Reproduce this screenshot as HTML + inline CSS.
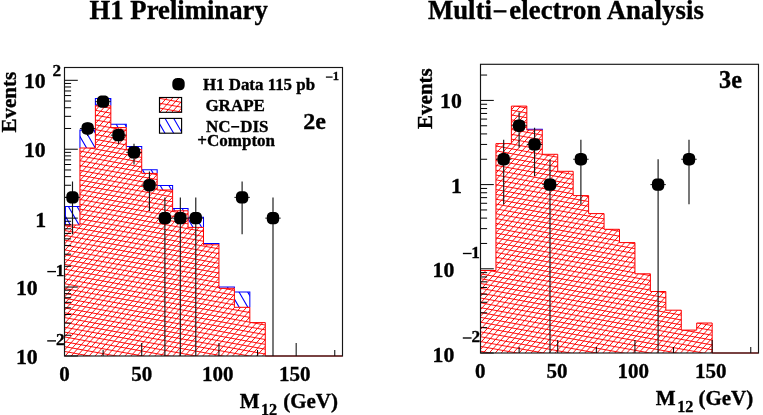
<!DOCTYPE html>
<html><head><meta charset="utf-8"><title>H1 Preliminary Multi-electron Analysis</title>
<style>html,body{margin:0;padding:0;background:#fff;}svg{display:block;will-change:transform;}text{fill:#000;stroke:#000;stroke-width:0.35px;}</style></head>
<body>
<svg width="763" height="415" viewBox="0 0 763 415">
<rect width="763" height="415" fill="#fff"/>
<clipPath id="clipR0"><path d="M64.50 356.00L64.50 225.00L79.94 225.00L79.94 148.00L95.39 148.00L95.39 105.80L110.83 105.80L110.83 127.60L126.28 127.60L126.28 149.60L141.72 149.60L141.72 173.40L157.17 173.40L157.17 190.00L172.61 190.00L172.61 210.80L188.06 210.80L188.06 227.40L203.50 227.40L203.50 244.80L218.94 244.80L218.94 288.30L234.39 288.30L234.39 307.30L249.83 307.30L249.83 322.60L265.28 322.60L265.28 356.00Z"/></clipPath>
<clipPath id="clipB0"><path d="M64.50 206.50H79.94V225.00H64.50ZM79.94 130.10H95.39V148.00H79.94ZM95.39 98.50H110.83V105.80H95.39ZM110.83 124.30H126.28V127.60H110.83ZM126.28 146.40H141.72V149.60H126.28ZM141.72 169.70H157.17V173.40H141.72ZM157.17 185.40H172.61V190.00H157.17ZM172.61 208.40H188.06V210.80H172.61ZM188.06 217.30H203.50V227.40H188.06ZM203.50 243.50H218.94V244.80H203.50ZM218.94 286.90H234.39V288.30H218.94ZM234.39 292.00H249.83V307.30H234.39Z"/></clipPath>
<clipPath id="clipB0t"><path d="M64.50 356.00L64.50 206.50L79.94 206.50L79.94 130.10L95.39 130.10L95.39 98.50L110.83 98.50L110.83 124.30L126.28 124.30L126.28 146.40L141.72 146.40L141.72 169.70L157.17 169.70L157.17 185.40L172.61 185.40L172.61 208.40L188.06 208.40L188.06 217.30L203.50 217.30L203.50 243.50L218.94 243.50L218.94 286.90L234.39 286.90L234.39 292.00L249.83 292.00L249.83 322.60L265.28 322.60L265.28 356.00Z"/></clipPath>
<g clip-path="url(#clipB0t)"><path d="M233.33 657.15L-167.31 -36.79M239.83 653.40L-160.82 -40.54M246.32 649.65L-154.32 -44.29M252.82 645.90L-147.83 -48.04M259.31 642.15L-141.33 -51.79M265.81 638.40L-134.84 -55.54M272.30 634.65L-128.34 -59.29M278.80 630.90L-121.84 -63.04M285.30 627.15L-115.35 -66.79M291.79 623.40L-108.85 -70.54M298.29 619.65L-102.36 -74.29M304.78 615.90L-95.86 -78.04M311.28 612.15L-89.37 -81.79M317.77 608.40L-82.87 -85.54M324.27 604.65L-76.38 -89.29M330.76 600.90L-69.88 -93.04M337.26 597.15L-63.39 -96.79M343.75 593.40L-56.89 -100.54M350.25 589.65L-50.40 -104.29M356.74 585.90L-43.90 -108.04M363.24 582.15L-37.41 -111.79M369.73 578.40L-30.91 -115.54M376.23 574.65L-24.42 -119.29M382.72 570.90L-17.92 -123.04M389.22 567.15L-11.43 -126.79M395.71 563.40L-4.93 -130.54M402.21 559.65L1.56 -134.29M408.70 555.90L8.06 -138.04M415.20 552.15L14.55 -141.79M421.69 548.40L21.05 -145.54M428.19 544.65L27.54 -149.29M434.68 540.90L34.04 -153.04M441.18 537.15L40.54 -156.79M447.68 533.40L47.03 -160.54M454.17 529.65L53.53 -164.29M460.67 525.90L60.02 -168.04M467.16 522.15L66.52 -171.79M473.66 518.40L73.01 -175.54M480.15 514.65L79.51 -179.29M486.65 510.90L86.00 -183.04M493.14 507.15L92.50 -186.79M499.64 503.40L98.99 -190.54M506.13 499.65L105.49 -194.29M512.63 495.90L111.98 -198.04M519.12 492.15L118.48 -201.79M525.62 488.40L124.97 -205.54M532.11 484.65L131.47 -209.29M538.61 480.90L137.96 -213.04M545.10 477.15L144.46 -216.79M551.60 473.40L150.95 -220.54M558.09 469.65L157.45 -224.29M564.59 465.90L163.94 -228.04M571.08 462.15L170.44 -231.79" stroke="#0000ff" stroke-width="1.1" fill="none"/></g>
<path d="M64.50 206.50H79.94M79.94 130.10H95.39M95.39 98.50H110.83M110.83 124.30H126.28M126.28 146.40H141.72M141.72 169.70H157.17M157.17 185.40H172.61M172.61 208.40H188.06M188.06 217.30H203.50M203.50 243.50H218.94M218.94 286.90H234.39M234.39 292.00H249.83M79.94 129.60V148.00M95.39 98.00V105.80M110.83 98.00V105.80M126.28 123.80V127.60M141.72 145.90V149.60M157.17 169.20V173.40M172.61 184.90V190.00M188.06 207.90V210.80M203.50 216.80V227.40M218.94 243.00V244.80M234.39 286.40V288.30M249.83 291.50V307.30M65.40 206.50V225.00" stroke="#0000ff" stroke-width="1.05" fill="none"/>
<path d="M64.50 356.00L64.50 225.00L79.94 225.00L79.94 148.00L95.39 148.00L95.39 105.80L110.83 105.80L110.83 127.60L126.28 127.60L126.28 149.60L141.72 149.60L141.72 173.40L157.17 173.40L157.17 190.00L172.61 190.00L172.61 210.80L188.06 210.80L188.06 227.40L203.50 227.40L203.50 244.80L218.94 244.80L218.94 288.30L234.39 288.30L234.39 307.30L249.83 307.30L249.83 322.60L265.28 322.60L265.28 356.00Z" fill="#fff"/>
<g clip-path="url(#clipR0)"><path d="M-214.48 374.19L322.41 -220.63M-211.19 377.16L325.71 -217.66M-207.89 380.14L329.00 -214.68M-204.60 383.11L332.30 -211.71M-201.30 386.09L335.60 -208.73M-198.00 389.06L338.89 -205.76M-194.71 392.04L342.19 -202.78M-191.41 395.01L345.48 -199.81M-188.12 397.99L348.78 -196.83M-184.82 400.96L352.07 -193.86M-181.52 403.94L355.37 -190.88M-178.23 406.91L358.67 -187.91M-174.93 409.89L361.96 -184.93M-171.64 412.86L365.26 -181.96M-168.34 415.84L368.55 -178.98M-165.04 418.81L371.85 -176.01M-161.75 421.79L375.15 -173.03M-158.45 424.76L378.44 -170.06M-155.16 427.74L381.74 -167.08M-151.86 430.71L385.03 -164.11M-148.56 433.69L388.33 -161.13M-145.27 436.66L391.63 -158.16M-141.97 439.63L394.92 -155.18M-138.68 442.61L398.22 -152.21M-135.38 445.58L401.51 -149.23M-132.08 448.56L404.81 -146.26M-128.79 451.53L408.11 -143.28M-125.49 454.51L411.40 -140.31M-122.20 457.48L414.70 -137.33M-118.90 460.46L417.99 -134.36M-115.60 463.43L421.29 -131.38M-112.31 466.41L424.59 -128.41M-109.01 469.38L427.88 -125.43M-105.72 472.36L431.18 -122.46M-102.42 475.33L434.47 -119.48M-99.13 478.31L437.77 -116.51M-95.83 481.28L441.07 -113.53M-92.53 484.26L444.36 -110.56M-89.24 487.23L447.66 -107.58M-85.94 490.21L450.95 -104.61M-82.65 493.18L454.25 -101.63M-79.35 496.16L457.54 -98.66M-76.05 499.13L460.84 -95.68M-72.76 502.11L464.14 -92.71M-69.46 505.08L467.43 -89.73M-66.17 508.06L470.73 -86.76M-62.87 511.03L474.02 -83.78M-59.57 514.01L477.32 -80.81M-56.28 516.98L480.62 -77.83M-52.98 519.96L483.91 -74.86M-49.69 522.93L487.21 -71.88M-46.39 525.91L490.50 -68.91M-43.09 528.88L493.80 -65.93M-39.80 531.86L497.10 -62.96M-36.50 534.83L500.39 -59.98M-33.21 537.81L503.69 -57.01M-29.91 540.78L506.98 -54.03M-26.61 543.76L510.28 -51.06M-23.32 546.73L513.58 -48.08M-20.02 549.71L516.87 -45.11M-16.73 552.68L520.17 -42.13M-13.43 555.66L523.46 -39.16M-10.14 558.63L526.76 -36.18M-6.84 561.61L530.06 -33.21M-3.54 564.58L533.35 -30.24M-0.25 567.56L536.65 -27.26M3.05 570.53L539.94 -24.29M6.34 573.51L543.24 -21.31M9.64 576.48L546.53 -18.34M12.94 579.46L549.83 -15.36M16.23 582.43L553.13 -12.39M19.53 585.41L556.42 -9.41M22.82 588.38L559.72 -6.44M26.12 591.36L563.01 -3.46M29.42 594.33L566.31 -0.49M32.71 597.31L569.61 2.49M36.01 600.28L572.90 5.46M39.30 603.26L576.20 8.44M42.60 606.23L579.49 11.41M45.90 609.21L582.79 14.39M49.19 612.18L586.09 17.36M52.49 615.16L589.38 20.34M55.78 618.13L592.68 23.31M59.08 621.11L595.97 26.29M62.38 624.08L599.27 29.26M65.67 627.06L602.57 32.24M68.97 630.03L605.86 35.21M72.26 633.01L609.16 38.19M75.56 635.98L612.45 41.16M78.85 638.96L615.75 44.14M82.15 641.93L619.05 47.11M85.45 644.91L622.34 50.09" stroke="#ff0000" stroke-width="0.95" fill="none"/><path d="M567.82 447.74L-220.56 304.47M568.67 443.06L-219.71 299.79M569.52 438.38L-218.86 295.11M570.37 433.69L-218.00 290.42M571.22 429.01L-217.15 285.74M572.07 424.33L-216.30 281.06M572.93 419.64L-215.45 276.37M573.78 414.96L-214.60 271.69M574.63 410.28L-213.75 267.01M575.48 405.59L-212.90 262.32M576.33 400.91L-212.05 257.64M577.18 396.23L-211.20 252.96M578.03 391.55L-210.34 248.27M578.88 386.86L-209.49 243.59M579.73 382.18L-208.64 238.91M580.59 377.50L-207.79 234.22M581.44 372.81L-206.94 229.54M582.29 368.13L-206.09 224.86M583.14 363.45L-205.24 220.17M583.99 358.76L-204.39 215.49M584.84 354.08L-203.54 210.81M585.69 349.40L-202.68 206.12M586.54 344.71L-201.83 201.44M587.39 340.03L-200.98 196.76M588.25 335.35L-200.13 192.07M589.10 330.66L-199.28 187.39M589.95 325.98L-198.43 182.71M590.80 321.30L-197.58 178.02M591.65 316.61L-196.73 173.34M592.50 311.93L-195.88 168.66M593.35 307.25L-195.02 163.97M594.20 302.56L-194.17 159.29M595.05 297.88L-193.32 154.61M595.91 293.20L-192.47 149.92M596.76 288.51L-191.62 145.24M597.61 283.83L-190.77 140.56M598.46 279.15L-189.92 135.87M599.31 274.46L-189.07 131.19M600.16 269.78L-188.22 126.51M601.01 265.10L-187.36 121.82M601.86 260.41L-186.51 117.14M602.71 255.73L-185.66 112.46M603.57 251.05L-184.81 107.77M604.42 246.36L-183.96 103.09M605.27 241.68L-183.11 98.41M606.12 237.00L-182.26 93.72M606.97 232.31L-181.41 89.04M607.82 227.63L-180.56 84.36M608.67 222.95L-179.70 79.67M609.52 218.26L-178.85 74.99M610.37 213.58L-178.00 70.31M611.23 208.90L-177.15 65.62M612.08 204.21L-176.30 60.94M612.93 199.53L-175.45 56.26M613.78 194.85L-174.60 51.57M614.63 190.16L-173.75 46.89M615.48 185.48L-172.90 42.21M616.33 180.80L-172.04 37.52M617.18 176.11L-171.19 32.84M618.03 171.43L-170.34 28.16M618.89 166.75L-169.49 23.47M619.74 162.06L-168.64 18.79M620.59 157.38L-167.79 14.11M621.44 152.70L-166.94 9.42M622.29 148.01L-166.09 4.74M623.14 143.33L-165.24 0.06M623.99 138.65L-164.38 -4.63M624.84 133.96L-163.53 -9.31M625.69 129.28L-162.68 -13.99M626.55 124.60L-161.83 -18.67M627.40 119.91L-160.98 -23.36M628.25 115.23L-160.13 -28.04" stroke="#ff0000" stroke-width="0.95" fill="none"/></g>
<path d="M64.50 225.00L64.50 225.00L79.94 225.00L79.94 148.00L95.39 148.00L95.39 105.80L110.83 105.80L110.83 127.60L126.28 127.60L126.28 149.60L141.72 149.60L141.72 173.40L157.17 173.40L157.17 190.00L172.61 190.00L172.61 210.80L188.06 210.80L188.06 227.40L203.50 227.40L203.50 244.80L218.94 244.80L218.94 288.30L234.39 288.30L234.39 307.30L249.83 307.30L249.83 322.60L265.28 322.60L265.28 356.00L342.50 356.00" stroke="#ff0000" stroke-width="1.0" fill="none"/>
<path d="M64.50 356.00v-13M103.11 356.00v-6M141.72 356.00v-13M180.33 356.00v-6M218.94 356.00v-13M257.56 356.00v-6M296.17 356.00v-13M334.78 356.00v-6M64.50 355.98h13.3M64.50 335.23h6.6M64.50 323.10h6.6M64.50 314.49h6.6M64.50 307.81h6.6M64.50 302.35h6.6M64.50 297.74h6.6M64.50 293.74h6.6M64.50 290.21h6.6M64.50 287.06h13.3M64.50 266.31h6.6M64.50 254.18h6.6M64.50 245.57h6.6M64.50 238.89h6.6M64.50 233.43h6.6M64.50 228.82h6.6M64.50 224.82h6.6M64.50 221.29h6.6M64.50 218.14h13.3M64.50 197.39h6.6M64.50 185.26h6.6M64.50 176.65h6.6M64.50 169.97h6.6M64.50 164.51h6.6M64.50 159.90h6.6M64.50 155.90h6.6M64.50 152.37h6.6M64.50 149.22h13.3M64.50 128.47h6.6M64.50 116.34h6.6M64.50 107.73h6.6M64.50 101.05h6.6M64.50 95.59h6.6M64.50 90.98h6.6M64.50 86.98h6.6M64.50 83.45h6.6M64.50 80.30h13.3" stroke="#000" stroke-width="1" fill="none"/>
<path d="M72.50 181.39V234.15M87.67 122.43V136.05M103.11 97.65V106.27M118.56 128.47V143.76M134.00 143.76V164.51M149.44 171.62V211.03M164.89 197.39V356.00M180.33 197.39V356.00M195.78 197.39V356.00M242.11 181.39V234.15M273.00 197.39V356.00" stroke="#181818" stroke-width="1.15" fill="none"/>
<path d="M64.50 197.39H79.94M79.94 128.47H95.39M95.39 101.65H110.83M110.83 135.15H126.28M126.28 152.37H141.72M141.72 185.26H157.17M157.17 218.14H172.61M172.61 218.14H188.06M188.06 218.14H203.50M234.39 197.39H249.83M265.28 218.14H280.72" stroke="#000" stroke-width="0.9" fill="none"/>
<polygon points="78.70,197.39 78.66,198.77 78.54,199.67 78.35,200.44 78.07,201.10 77.72,201.69 77.30,202.19 76.79,202.62 76.21,202.97 75.54,203.24 74.78,203.44 73.87,203.55 72.50,203.59 71.13,203.55 70.22,203.44 69.46,203.24 68.79,202.97 68.21,202.62 67.70,202.19 67.28,201.69 66.93,201.10 66.65,200.44 66.46,199.67 66.34,198.77 66.30,197.39 66.34,196.02 66.46,195.11 66.65,194.35 66.93,193.68 67.28,193.10 67.70,192.60 68.21,192.17 68.79,191.82 69.46,191.55 70.22,191.35 71.13,191.23 72.50,191.19 73.87,191.23 74.78,191.35 75.54,191.55 76.21,191.82 76.79,192.17 77.30,192.60 77.72,193.10 78.07,193.68 78.35,194.35 78.54,195.11 78.66,196.02" fill="#000"/><polygon points="93.87,128.47 93.83,129.85 93.71,130.75 93.51,131.52 93.24,132.18 92.89,132.77 92.46,133.27 91.96,133.70 91.38,134.05 90.71,134.32 89.94,134.52 89.04,134.63 87.67,134.67 86.29,134.63 85.39,134.52 84.62,134.32 83.96,134.05 83.37,133.70 82.87,133.27 82.44,132.77 82.09,132.18 81.82,131.52 81.62,130.75 81.51,129.85 81.47,128.47 81.51,127.10 81.62,126.19 81.82,125.43 82.09,124.76 82.44,124.18 82.87,123.68 83.37,123.25 83.96,122.90 84.62,122.63 85.39,122.43 86.29,122.31 87.67,122.27 89.04,122.31 89.94,122.43 90.71,122.63 91.38,122.90 91.96,123.25 92.46,123.68 92.89,124.18 93.24,124.76 93.51,125.43 93.71,126.19 93.83,127.10" fill="#000"/><polygon points="109.31,101.65 109.27,103.02 109.15,103.93 108.96,104.70 108.68,105.36 108.33,105.94 107.91,106.45 107.40,106.87 106.82,107.23 106.15,107.50 105.39,107.69 104.48,107.81 103.11,107.85 101.74,107.81 100.83,107.69 100.07,107.50 99.40,107.23 98.82,106.87 98.31,106.45 97.89,105.94 97.54,105.36 97.26,104.70 97.07,103.93 96.95,103.02 96.91,101.65 96.95,100.28 97.07,99.37 97.26,98.61 97.54,97.94 97.89,97.36 98.31,96.86 98.82,96.43 99.40,96.08 100.07,95.80 100.83,95.61 101.74,95.49 103.11,95.45 104.48,95.49 105.39,95.61 106.15,95.80 106.82,96.08 107.40,96.43 107.91,96.86 108.33,97.36 108.68,97.94 108.96,98.61 109.15,99.37 109.27,100.28" fill="#000"/><polygon points="124.76,135.15 124.72,136.52 124.60,137.43 124.40,138.20 124.13,138.86 123.78,139.44 123.35,139.95 122.85,140.38 122.27,140.73 121.60,141.00 120.83,141.19 119.93,141.31 118.56,141.35 117.18,141.31 116.28,141.19 115.51,141.00 114.85,140.73 114.26,140.38 113.76,139.95 113.33,139.44 112.98,138.86 112.71,138.20 112.51,137.43 112.39,136.52 112.36,135.15 112.39,133.78 112.51,132.87 112.71,132.11 112.98,131.44 113.33,130.86 113.76,130.36 114.26,129.93 114.85,129.58 115.51,129.31 116.28,129.11 117.18,128.99 118.56,128.95 119.93,128.99 120.83,129.11 121.60,129.31 122.27,129.58 122.85,129.93 123.35,130.36 123.78,130.86 124.13,131.44 124.40,132.11 124.60,132.87 124.72,133.78" fill="#000"/><polygon points="140.20,152.37 140.16,153.75 140.04,154.65 139.85,155.42 139.57,156.08 139.22,156.67 138.80,157.17 138.29,157.60 137.71,157.95 137.04,158.22 136.28,158.42 135.37,158.53 134.00,158.57 132.63,158.53 131.72,158.42 130.96,158.22 130.29,157.95 129.71,157.60 129.20,157.17 128.78,156.67 128.43,156.08 128.15,155.42 127.96,154.65 127.84,153.75 127.80,152.37 127.84,151.00 127.96,150.10 128.15,149.33 128.43,148.66 128.78,148.08 129.20,147.58 129.71,147.15 130.29,146.80 130.96,146.53 131.72,146.33 132.63,146.21 134.00,146.17 135.37,146.21 136.28,146.33 137.04,146.53 137.71,146.80 138.29,147.15 138.80,147.58 139.22,148.08 139.57,148.66 139.85,149.33 140.04,150.10 140.16,151.00" fill="#000"/><polygon points="155.64,185.26 155.61,186.63 155.49,187.53 155.29,188.30 155.02,188.97 154.67,189.55 154.24,190.05 153.74,190.48 153.15,190.83 152.49,191.10 151.72,191.30 150.82,191.42 149.44,191.46 148.07,191.42 147.17,191.30 146.40,191.10 145.73,190.83 145.15,190.48 144.65,190.05 144.22,189.55 143.87,188.97 143.60,188.30 143.40,187.53 143.28,186.63 143.24,185.26 143.28,183.88 143.40,182.98 143.60,182.21 143.87,181.55 144.22,180.96 144.65,180.46 145.15,180.03 145.73,179.68 146.40,179.41 147.17,179.21 148.07,179.10 149.44,179.06 150.82,179.10 151.72,179.21 152.49,179.41 153.15,179.68 153.74,180.03 154.24,180.46 154.67,180.96 155.02,181.55 155.29,182.21 155.49,182.98 155.61,183.88" fill="#000"/><polygon points="171.09,218.14 171.05,219.51 170.93,220.42 170.74,221.18 170.46,221.85 170.11,222.43 169.69,222.94 169.18,223.36 168.60,223.71 167.93,223.99 167.17,224.18 166.26,224.30 164.89,224.34 163.52,224.30 162.61,224.18 161.85,223.99 161.18,223.71 160.60,223.36 160.09,222.94 159.67,222.43 159.32,221.85 159.04,221.18 158.85,220.42 158.73,219.51 158.69,218.14 158.73,216.77 158.85,215.86 159.04,215.10 159.32,214.43 159.67,213.85 160.09,213.34 160.60,212.92 161.18,212.57 161.85,212.29 162.61,212.10 163.52,211.98 164.89,211.94 166.26,211.98 167.17,212.10 167.93,212.29 168.60,212.57 169.18,212.92 169.69,213.34 170.11,213.85 170.46,214.43 170.74,215.10 170.93,215.86 171.05,216.77" fill="#000"/><polygon points="186.53,218.14 186.49,219.51 186.38,220.42 186.18,221.18 185.91,221.85 185.56,222.43 185.13,222.94 184.63,223.36 184.04,223.71 183.38,223.99 182.61,224.18 181.71,224.30 180.33,224.34 178.96,224.30 178.06,224.18 177.29,223.99 176.62,223.71 176.04,223.36 175.54,222.94 175.11,222.43 174.76,221.85 174.49,221.18 174.29,220.42 174.17,219.51 174.13,218.14 174.17,216.77 174.29,215.86 174.49,215.10 174.76,214.43 175.11,213.85 175.54,213.34 176.04,212.92 176.62,212.57 177.29,212.29 178.06,212.10 178.96,211.98 180.33,211.94 181.71,211.98 182.61,212.10 183.38,212.29 184.04,212.57 184.63,212.92 185.13,213.34 185.56,213.85 185.91,214.43 186.18,215.10 186.38,215.86 186.49,216.77" fill="#000"/><polygon points="201.98,218.14 201.94,219.51 201.82,220.42 201.62,221.18 201.35,221.85 201.00,222.43 200.57,222.94 200.07,223.36 199.49,223.71 198.82,223.99 198.06,224.18 197.15,224.30 195.78,224.34 194.41,224.30 193.50,224.18 192.73,223.99 192.07,223.71 191.49,223.36 190.98,222.94 190.55,222.43 190.20,221.85 189.93,221.18 189.73,220.42 189.62,219.51 189.58,218.14 189.62,216.77 189.73,215.86 189.93,215.10 190.20,214.43 190.55,213.85 190.98,213.34 191.49,212.92 192.07,212.57 192.73,212.29 193.50,212.10 194.41,211.98 195.78,211.94 197.15,211.98 198.06,212.10 198.82,212.29 199.49,212.57 200.07,212.92 200.57,213.34 201.00,213.85 201.35,214.43 201.62,215.10 201.82,215.86 201.94,216.77" fill="#000"/><polygon points="248.31,197.39 248.27,198.77 248.15,199.67 247.96,200.44 247.68,201.10 247.33,201.69 246.91,202.19 246.40,202.62 245.82,202.97 245.15,203.24 244.39,203.44 243.48,203.55 242.11,203.59 240.74,203.55 239.83,203.44 239.07,203.24 238.40,202.97 237.82,202.62 237.31,202.19 236.89,201.69 236.54,201.10 236.26,200.44 236.07,199.67 235.95,198.77 235.91,197.39 235.95,196.02 236.07,195.11 236.26,194.35 236.54,193.68 236.89,193.10 237.31,192.60 237.82,192.17 238.40,191.82 239.07,191.55 239.83,191.35 240.74,191.23 242.11,191.19 243.48,191.23 244.39,191.35 245.15,191.55 245.82,191.82 246.40,192.17 246.91,192.60 247.33,193.10 247.68,193.68 247.96,194.35 248.15,195.11 248.27,196.02" fill="#000"/><polygon points="279.20,218.14 279.16,219.51 279.04,220.42 278.85,221.18 278.57,221.85 278.22,222.43 277.80,222.94 277.29,223.36 276.71,223.71 276.04,223.99 275.28,224.18 274.37,224.30 273.00,224.34 271.63,224.30 270.72,224.18 269.96,223.99 269.29,223.71 268.71,223.36 268.20,222.94 267.78,222.43 267.43,221.85 267.15,221.18 266.96,220.42 266.84,219.51 266.80,218.14 266.84,216.77 266.96,215.86 267.15,215.10 267.43,214.43 267.78,213.85 268.20,213.34 268.71,212.92 269.29,212.57 269.96,212.29 270.72,212.10 271.63,211.98 273.00,211.94 274.37,211.98 275.28,212.10 276.04,212.29 276.71,212.57 277.29,212.92 277.80,213.34 278.22,213.85 278.57,214.43 278.85,215.10 279.04,215.86 279.16,216.77" fill="#000"/>
<rect x="64.50" y="67.50" width="278.00" height="288.50" fill="none" stroke="#161616" stroke-width="1.15"/>
<clipPath id="clipR1"><path d="M480.50 353.00L480.50 270.50L495.94 270.50L495.94 143.60L511.39 143.60L511.39 106.10L526.83 106.10L526.83 130.10L542.28 130.10L542.28 154.30L557.72 154.30L557.72 171.30L573.17 171.30L573.17 195.60L588.61 195.60L588.61 213.60L604.06 213.60L604.06 229.30L619.50 229.30L619.50 242.60L634.94 242.60L634.94 273.80L650.39 273.80L650.39 291.50L665.83 291.50L665.83 310.20L681.28 310.20L681.28 330.10L696.72 330.10L696.72 323.00L712.17 323.00L712.17 353.00Z"/></clipPath>
<clipPath id="clipB1"><path d="M526.83 129.20H542.28V130.10H526.83Z"/></clipPath>
<clipPath id="clipB1t"><path d="M480.50 353.00L480.50 270.50L495.94 270.50L495.94 143.60L511.39 143.60L511.39 106.10L526.83 106.10L526.83 129.20L542.28 129.20L542.28 154.30L557.72 154.30L557.72 171.30L573.17 171.30L573.17 195.60L588.61 195.60L588.61 213.60L604.06 213.60L604.06 229.30L619.50 229.30L619.50 242.60L634.94 242.60L634.94 273.80L650.39 273.80L650.39 291.50L665.83 291.50L665.83 310.20L681.28 310.20L681.28 330.10L696.72 330.10L696.72 323.00L712.17 323.00L712.17 353.00Z"/></clipPath>
<g clip-path="url(#clipB1t)"><path d="M647.83 655.08L247.04 -39.10M654.33 651.33L253.54 -42.85M660.82 647.58L260.03 -46.60M667.32 643.83L266.53 -50.35M673.81 640.08L273.02 -54.10M680.31 636.33L279.52 -57.85M686.80 632.58L286.01 -61.60M693.30 628.83L292.51 -65.35M699.79 625.08L299.01 -69.10M706.29 621.33L305.50 -72.85M712.78 617.58L312.00 -76.60M719.28 613.83L318.49 -80.35M725.77 610.08L324.99 -84.10M732.27 606.33L331.48 -87.85M738.77 602.58L337.98 -91.60M745.26 598.83L344.47 -95.35M751.76 595.08L350.97 -99.10M758.25 591.33L357.46 -102.85M764.75 587.58L363.96 -106.60M771.24 583.83L370.45 -110.35M777.74 580.08L376.95 -114.10M784.23 576.33L383.44 -117.85M790.73 572.58L389.94 -121.60M797.22 568.83L396.43 -125.35M803.72 565.08L402.93 -129.10M810.21 561.33L409.42 -132.85M816.71 557.58L415.92 -136.60M823.20 553.83L422.41 -140.35M829.70 550.08L428.91 -144.10M836.19 546.33L435.40 -147.85M842.69 542.58L441.90 -151.60M849.18 538.83L448.39 -155.35M855.68 535.08L454.89 -159.10M862.17 531.33L461.38 -162.85M868.67 527.58L467.88 -166.60M875.16 523.83L474.38 -170.35M881.66 520.08L480.87 -174.10M888.15 516.33L487.37 -177.85M894.65 512.58L493.86 -181.60M901.14 508.83L500.36 -185.35M907.64 505.08L506.85 -189.10M914.14 501.33L513.35 -192.85M920.63 497.58L519.84 -196.60M927.13 493.83L526.34 -200.35M933.62 490.08L532.83 -204.10M940.12 486.33L539.33 -207.85M946.61 482.58L545.82 -211.60M953.11 478.83L552.32 -215.35M959.60 475.08L558.81 -219.10M966.10 471.33L565.31 -222.85M972.59 467.58L571.80 -226.60M979.09 463.83L578.30 -230.35M985.58 460.08L584.79 -234.10M992.08 456.33L591.29 -237.85" stroke="#0000ff" stroke-width="1.1" fill="none"/></g>
<path d="M526.83 129.20H542.28M542.28 128.70V130.10" stroke="#0000ff" stroke-width="1.05" fill="none"/>
<path d="M480.50 353.00L480.50 270.50L495.94 270.50L495.94 143.60L511.39 143.60L511.39 106.10L526.83 106.10L526.83 130.10L542.28 130.10L542.28 154.30L557.72 154.30L557.72 171.30L573.17 171.30L573.17 195.60L588.61 195.60L588.61 213.60L604.06 213.60L604.06 229.30L619.50 229.30L619.50 242.60L634.94 242.60L634.94 273.80L650.39 273.80L650.39 291.50L665.83 291.50L665.83 310.20L681.28 310.20L681.28 330.10L696.72 330.10L696.72 323.00L712.17 323.00L712.17 353.00Z" fill="#fff"/>
<g clip-path="url(#clipR1)"><path d="M199.34 369.31L736.43 -225.72M202.64 372.29L739.72 -222.74M205.93 375.26L743.02 -219.77M209.23 378.24L746.32 -216.79M212.52 381.21L749.61 -213.82M215.82 384.19L752.91 -210.84M219.12 387.16L756.20 -207.87M222.41 390.14L759.50 -204.89M225.71 393.11L762.79 -201.92M229.00 396.09L766.09 -198.94M232.30 399.06L769.39 -195.97M235.60 402.04L772.68 -192.99M238.89 405.01L775.98 -190.02M242.19 407.99L779.27 -187.04M245.48 410.96L782.57 -184.07M248.78 413.94L785.87 -181.09M252.07 416.91L789.16 -178.12M255.37 419.89L792.46 -175.14M258.67 422.86L795.75 -172.17M261.96 425.84L799.05 -169.19M265.26 428.81L802.35 -166.22M268.55 431.79L805.64 -163.24M271.85 434.76L808.94 -160.27M275.15 437.74L812.23 -157.29M278.44 440.71L815.53 -154.32M281.74 443.69L818.83 -151.34M285.03 446.66L822.12 -148.37M288.33 449.64L825.42 -145.39M291.63 452.61L828.71 -142.42M294.92 455.59L832.01 -139.44M298.22 458.56L835.31 -136.47M301.51 461.54L838.60 -133.49M304.81 464.51L841.90 -130.52M308.11 467.49L845.19 -127.54M311.40 470.46L848.49 -124.57M314.70 473.44L851.79 -121.59M317.99 476.41L855.08 -118.62M321.29 479.39L858.38 -115.64M324.59 482.36L861.67 -112.67M327.88 485.34L864.97 -109.69M331.18 488.31L868.26 -106.72M334.47 491.29L871.56 -103.74M337.77 494.26L874.86 -100.77M341.06 497.24L878.15 -97.79M344.36 500.21L881.45 -94.82M347.66 503.19L884.74 -91.84M350.95 506.16L888.04 -88.87M354.25 509.14L891.34 -85.89M357.54 512.11L894.63 -82.92M360.84 515.09L897.93 -79.94M364.14 518.06L901.22 -76.97M367.43 521.04L904.52 -73.99M370.73 524.01L907.82 -71.02M374.02 526.99L911.11 -68.04M377.32 529.96L914.41 -65.07M380.62 532.94L917.70 -62.09M383.91 535.91L921.00 -59.12M387.21 538.89L924.30 -56.14M390.50 541.86L927.59 -53.17M393.80 544.84L930.89 -50.19M397.10 547.81L934.18 -47.22M400.39 550.79L937.48 -44.24M403.69 553.76L940.78 -41.27M406.98 556.74L944.07 -38.29M410.28 559.71L947.37 -35.32M413.58 562.69L950.66 -32.35M416.87 565.66L953.96 -29.37M420.17 568.64L957.25 -26.40M423.46 571.61L960.55 -23.42M426.76 574.59L963.85 -20.45M430.06 577.56L967.14 -17.47M433.35 580.54L970.44 -14.50M436.65 583.51L973.73 -11.52M439.94 586.49L977.03 -8.55M443.24 589.46L980.33 -5.57M446.53 592.44L983.62 -2.60M449.83 595.41L986.92 0.38M453.13 598.39L990.21 3.35M456.42 601.36L993.51 6.33M459.72 604.34L996.81 9.30M463.01 607.31L1000.10 12.28M466.31 610.29L1003.40 15.25M469.61 613.26L1006.69 18.23M472.90 616.24L1009.99 21.20M476.20 619.21L1013.29 24.18M479.49 622.19L1016.58 27.15M482.79 625.16L1019.88 30.13M486.09 628.14L1023.17 33.10M489.38 631.11L1026.47 36.08M492.68 634.09L1029.77 39.05M495.97 637.06L1033.06 42.03M499.27 640.04L1036.36 45.00M502.57 643.01L1039.65 47.98" stroke="#ff0000" stroke-width="0.95" fill="none"/><path d="M983.45 447.47L194.79 304.15M984.30 442.79L195.64 299.46M985.15 438.10L196.49 294.78M986.01 433.42L197.35 290.10M986.86 428.74L198.20 285.41M987.71 424.05L199.05 280.73M988.56 419.37L199.90 276.05M989.41 414.69L200.75 271.36M990.26 410.00L201.60 266.68M991.11 405.32L202.45 262.00M991.96 400.64L203.30 257.31M992.81 395.95L204.15 252.63M993.67 391.27L205.01 247.95M994.52 386.59L205.86 243.26M995.37 381.90L206.71 238.58M996.22 377.22L207.56 233.90M997.07 372.54L208.41 229.21M997.92 367.85L209.26 224.53M998.77 363.17L210.11 219.85M999.62 358.49L210.96 215.16M1000.47 353.80L211.81 210.48M1001.33 349.12L212.67 205.80M1002.18 344.44L213.52 201.11M1003.03 339.75L214.37 196.43M1003.88 335.07L215.22 191.75M1004.73 330.39L216.07 187.06M1005.58 325.70L216.92 182.38M1006.43 321.02L217.77 177.70M1007.28 316.34L218.62 173.01M1008.13 311.65L219.47 168.33M1008.99 306.97L220.32 163.65M1009.84 302.29L221.18 158.96M1010.69 297.61L222.03 154.28M1011.54 292.92L222.88 149.60M1012.39 288.24L223.73 144.91M1013.24 283.56L224.58 140.23M1014.09 278.87L225.43 135.55M1014.94 274.19L226.28 130.86M1015.79 269.51L227.13 126.18M1016.65 264.82L227.98 121.50M1017.50 260.14L228.84 116.81M1018.35 255.46L229.69 112.13M1019.20 250.77L230.54 107.45M1020.05 246.09L231.39 102.76M1020.90 241.41L232.24 98.08M1021.75 236.72L233.09 93.40M1022.60 232.04L233.94 88.72M1023.45 227.36L234.79 84.03M1024.31 222.67L235.64 79.35M1025.16 217.99L236.50 74.67M1026.01 213.31L237.35 69.98M1026.86 208.62L238.20 65.30M1027.71 203.94L239.05 60.62M1028.56 199.26L239.90 55.93M1029.41 194.57L240.75 51.25M1030.26 189.89L241.60 46.57M1031.11 185.21L242.45 41.88M1031.96 180.52L243.30 37.20M1032.82 175.84L244.16 32.52M1033.67 171.16L245.01 27.83M1034.52 166.47L245.86 23.15M1035.37 161.79L246.71 18.47M1036.22 157.11L247.56 13.78M1037.07 152.42L248.41 9.10M1037.92 147.74L249.26 4.42M1038.77 143.06L250.11 -0.27M1039.62 138.37L250.96 -4.95M1040.48 133.69L251.82 -9.63M1041.33 129.01L252.67 -14.32M1042.18 124.32L253.52 -19.00M1043.03 119.64L254.37 -23.68M1043.88 114.96L255.22 -28.37" stroke="#ff0000" stroke-width="0.95" fill="none"/></g>
<path d="M480.50 270.50L480.50 270.50L495.94 270.50L495.94 143.60L511.39 143.60L511.39 106.10L526.83 106.10L526.83 130.10L542.28 130.10L542.28 154.30L557.72 154.30L557.72 171.30L573.17 171.30L573.17 195.60L588.61 195.60L588.61 213.60L604.06 213.60L604.06 229.30L619.50 229.30L619.50 242.60L634.94 242.60L634.94 273.80L650.39 273.80L650.39 291.50L665.83 291.50L665.83 310.20L681.28 310.20L681.28 330.10L696.72 330.10L696.72 323.00L712.17 323.00L712.17 353.00L758.50 353.00" stroke="#ff0000" stroke-width="1.0" fill="none"/>
<path d="M480.50 353.00v-13M519.11 353.00v-6M557.72 353.00v-13M596.33 353.00v-6M634.94 353.00v-13M673.56 353.00v-6M712.17 353.00v-13M750.78 353.00v-6M480.50 353.00h13.3M480.50 327.65h6.6M480.50 312.83h6.6M480.50 302.31h6.6M480.50 294.15h6.6M480.50 287.48h6.6M480.50 281.84h6.6M480.50 276.96h6.6M480.50 272.65h6.6M480.50 268.80h13.3M480.50 243.45h6.6M480.50 228.63h6.6M480.50 218.11h6.6M480.50 209.95h6.6M480.50 203.28h6.6M480.50 197.64h6.6M480.50 192.76h6.6M480.50 188.45h6.6M480.50 184.60h13.3M480.50 159.25h6.6M480.50 144.43h6.6M480.50 133.91h6.6M480.50 125.75h6.6M480.50 119.08h6.6M480.50 113.44h6.6M480.50 108.56h6.6M480.50 104.25h6.6M480.50 100.40h13.3M480.50 75.05h6.6" stroke="#000" stroke-width="1" fill="none"/>
<path d="M503.67 139.70V204.16M519.11 112.23V147.42M534.56 127.76V175.92M550.00 159.25V353.00M580.89 139.70V204.16M658.11 159.25V353.00M689.00 139.70V204.16" stroke="#181818" stroke-width="1.15" fill="none"/>
<path d="M495.94 159.25H511.39M511.39 125.75H526.83M526.83 144.43H542.28M542.28 184.60H557.72M573.17 159.25H588.61M650.39 184.60H665.83M681.28 159.25H696.72" stroke="#000" stroke-width="0.9" fill="none"/>
<polygon points="509.87,159.25 509.83,160.63 509.71,161.53 509.51,162.30 509.24,162.96 508.89,163.55 508.46,164.05 507.96,164.48 507.38,164.83 506.71,165.10 505.94,165.30 505.04,165.41 503.67,165.45 502.29,165.41 501.39,165.30 500.62,165.10 499.96,164.83 499.37,164.48 498.87,164.05 498.44,163.55 498.09,162.96 497.82,162.30 497.62,161.53 497.51,160.63 497.47,159.25 497.51,157.88 497.62,156.98 497.82,156.21 498.09,155.54 498.44,154.96 498.87,154.46 499.37,154.03 499.96,153.68 500.62,153.41 501.39,153.21 502.29,153.09 503.67,153.05 505.04,153.09 505.94,153.21 506.71,153.41 507.38,153.68 507.96,154.03 508.46,154.46 508.89,154.96 509.24,155.54 509.51,156.21 509.71,156.98 509.83,157.88" fill="#000"/><polygon points="525.31,125.75 525.27,127.12 525.15,128.02 524.96,128.79 524.68,129.46 524.33,130.04 523.91,130.54 523.40,130.97 522.82,131.32 522.15,131.59 521.39,131.79 520.48,131.91 519.11,131.95 517.74,131.91 516.83,131.79 516.07,131.59 515.40,131.32 514.82,130.97 514.31,130.54 513.89,130.04 513.54,129.46 513.26,128.79 513.07,128.02 512.95,127.12 512.91,125.75 512.95,124.37 513.07,123.47 513.26,122.70 513.54,122.04 513.89,121.45 514.31,120.95 514.82,120.52 515.40,120.17 516.07,119.90 516.83,119.70 517.74,119.59 519.11,119.55 520.48,119.59 521.39,119.70 522.15,119.90 522.82,120.17 523.40,120.52 523.91,120.95 524.33,121.45 524.68,122.04 524.96,122.70 525.15,123.47 525.27,124.37" fill="#000"/><polygon points="540.76,144.43 540.72,145.80 540.60,146.70 540.40,147.47 540.13,148.14 539.78,148.72 539.35,149.22 538.85,149.65 538.27,150.00 537.60,150.27 536.83,150.47 535.93,150.59 534.56,150.63 533.18,150.59 532.28,150.47 531.51,150.27 530.85,150.00 530.26,149.65 529.76,149.22 529.33,148.72 528.98,148.14 528.71,147.47 528.51,146.70 528.39,145.80 528.36,144.43 528.39,143.05 528.51,142.15 528.71,141.38 528.98,140.72 529.33,140.13 529.76,139.63 530.26,139.20 530.85,138.85 531.51,138.58 532.28,138.38 533.18,138.27 534.56,138.23 535.93,138.27 536.83,138.38 537.60,138.58 538.27,138.85 538.85,139.20 539.35,139.63 539.78,140.13 540.13,140.72 540.40,141.38 540.60,142.15 540.72,143.05" fill="#000"/><polygon points="556.20,184.60 556.16,185.97 556.04,186.88 555.85,187.64 555.57,188.31 555.22,188.89 554.80,189.40 554.29,189.82 553.71,190.17 553.04,190.45 552.28,190.64 551.37,190.76 550.00,190.80 548.63,190.76 547.72,190.64 546.96,190.45 546.29,190.17 545.71,189.82 545.20,189.40 544.78,188.89 544.43,188.31 544.15,187.64 543.96,186.88 543.84,185.97 543.80,184.60 543.84,183.23 543.96,182.32 544.15,181.56 544.43,180.89 544.78,180.31 545.20,179.80 545.71,179.38 546.29,179.03 546.96,178.75 547.72,178.56 548.63,178.44 550.00,178.40 551.37,178.44 552.28,178.56 553.04,178.75 553.71,179.03 554.29,179.38 554.80,179.80 555.22,180.31 555.57,180.89 555.85,181.56 556.04,182.32 556.16,183.23" fill="#000"/><polygon points="587.09,159.25 587.05,160.63 586.93,161.53 586.74,162.30 586.46,162.96 586.11,163.55 585.69,164.05 585.18,164.48 584.60,164.83 583.93,165.10 583.17,165.30 582.26,165.41 580.89,165.45 579.52,165.41 578.61,165.30 577.85,165.10 577.18,164.83 576.60,164.48 576.09,164.05 575.67,163.55 575.32,162.96 575.04,162.30 574.85,161.53 574.73,160.63 574.69,159.25 574.73,157.88 574.85,156.98 575.04,156.21 575.32,155.54 575.67,154.96 576.09,154.46 576.60,154.03 577.18,153.68 577.85,153.41 578.61,153.21 579.52,153.09 580.89,153.05 582.26,153.09 583.17,153.21 583.93,153.41 584.60,153.68 585.18,154.03 585.69,154.46 586.11,154.96 586.46,155.54 586.74,156.21 586.93,156.98 587.05,157.88" fill="#000"/><polygon points="664.31,184.60 664.27,185.97 664.15,186.88 663.96,187.64 663.68,188.31 663.33,188.89 662.91,189.40 662.40,189.82 661.82,190.17 661.15,190.45 660.39,190.64 659.48,190.76 658.11,190.80 656.74,190.76 655.83,190.64 655.07,190.45 654.40,190.17 653.82,189.82 653.31,189.40 652.89,188.89 652.54,188.31 652.26,187.64 652.07,186.88 651.95,185.97 651.91,184.60 651.95,183.23 652.07,182.32 652.26,181.56 652.54,180.89 652.89,180.31 653.31,179.80 653.82,179.38 654.40,179.03 655.07,178.75 655.83,178.56 656.74,178.44 658.11,178.40 659.48,178.44 660.39,178.56 661.15,178.75 661.82,179.03 662.40,179.38 662.91,179.80 663.33,180.31 663.68,180.89 663.96,181.56 664.15,182.32 664.27,183.23" fill="#000"/><polygon points="695.20,159.25 695.16,160.63 695.04,161.53 694.85,162.30 694.57,162.96 694.22,163.55 693.80,164.05 693.29,164.48 692.71,164.83 692.04,165.10 691.28,165.30 690.37,165.41 689.00,165.45 687.63,165.41 686.72,165.30 685.96,165.10 685.29,164.83 684.71,164.48 684.20,164.05 683.78,163.55 683.43,162.96 683.15,162.30 682.96,161.53 682.84,160.63 682.80,159.25 682.84,157.88 682.96,156.98 683.15,156.21 683.43,155.54 683.78,154.96 684.20,154.46 684.71,154.03 685.29,153.68 685.96,153.41 686.72,153.21 687.63,153.09 689.00,153.05 690.37,153.09 691.28,153.21 692.04,153.41 692.71,153.68 693.29,154.03 693.80,154.46 694.22,154.96 694.57,155.54 694.85,156.21 695.04,156.98 695.16,157.88" fill="#000"/>
<rect x="480.50" y="64.30" width="278.00" height="288.70" fill="none" stroke="#161616" stroke-width="1.15"/>
<text x="89.60" y="19.30" font-size="26.7" text-anchor="start" font-family="Liberation Serif, serif" font-weight="bold" >H1 Preliminary</text>
<text x="427.90" y="19.30" font-size="26.7" text-anchor="start" font-family="Liberation Serif, serif" font-weight="bold" letter-spacing="0.1">Multi</text>
<rect x="493.6" y="10.2" width="12.9" height="2.3" fill="#000"/>
<text x="509.25" y="19.30" font-size="26.7" text-anchor="start" font-family="Liberation Serif, serif" font-weight="bold" letter-spacing="0.1">electron Analysis</text>
<text x="45.70" y="88.00" font-size="21.8" text-anchor="end" font-family="Liberation Serif, serif" font-weight="bold" >10</text>
<text x="52.40" y="76.00" font-size="17.2" text-anchor="start" font-family="Liberation Serif, serif" font-weight="bold" >2</text>
<text x="45.70" y="156.90" font-size="21.8" text-anchor="end" font-family="Liberation Serif, serif" font-weight="bold" >10</text>
<text x="46.20" y="226.70" font-size="21.8" text-anchor="end" font-family="Liberation Serif, serif" font-weight="bold" >1</text>
<text x="37.70" y="294.60" font-size="21.8" text-anchor="end" font-family="Liberation Serif, serif" font-weight="bold" >10</text>
<rect x="47.30" y="270.93" width="8.70" height="1.35" fill="#000"/>
<text x="64.30" y="275.60" font-size="17.2" text-anchor="end" font-family="Liberation Serif, serif" font-weight="bold" >1</text>
<text x="37.70" y="364.40" font-size="21.8" text-anchor="end" font-family="Liberation Serif, serif" font-weight="bold" >10</text>
<rect x="47.20" y="340.22" width="8.80" height="1.35" fill="#000"/>
<text x="64.60" y="344.90" font-size="17.2" text-anchor="end" font-family="Liberation Serif, serif" font-weight="bold" >2</text>
<text x="64.50" y="380.80" font-size="21" text-anchor="middle" font-family="Liberation Serif, serif" font-weight="bold" >0</text>
<text x="141.72" y="380.80" font-size="21" text-anchor="middle" font-family="Liberation Serif, serif" font-weight="bold" >50</text>
<text x="217.64" y="380.80" font-size="21" text-anchor="middle" font-family="Liberation Serif, serif" font-weight="bold" >100</text>
<text x="294.87" y="380.80" font-size="21" text-anchor="middle" font-family="Liberation Serif, serif" font-weight="bold" >150</text>
<text x="239.80" y="407.70" font-size="21" text-anchor="start" font-family="Liberation Serif, serif" font-weight="bold" >M</text>
<text x="261.00" y="414.50" font-size="16.2" text-anchor="start" font-family="Liberation Serif, serif" font-weight="bold" >12</text>
<text x="283.20" y="407.70" font-size="21" text-anchor="start" font-family="Liberation Serif, serif" font-weight="bold" >(GeV)</text>
<text transform="translate(15.5,132.6) rotate(-90)" font-size="21" font-family="Liberation Serif, serif" font-weight="bold">Events</text>
<text x="461.90" y="108.00" font-size="21.8" text-anchor="end" font-family="Liberation Serif, serif" font-weight="bold" >10</text>
<text x="461.80" y="192.80" font-size="21.8" text-anchor="end" font-family="Liberation Serif, serif" font-weight="bold" >1</text>
<text x="454.30" y="276.50" font-size="21.8" text-anchor="end" font-family="Liberation Serif, serif" font-weight="bold" >10</text>
<rect x="462.90" y="252.82" width="8.70" height="1.35" fill="#000"/>
<text x="479.90" y="257.50" font-size="17.2" text-anchor="end" font-family="Liberation Serif, serif" font-weight="bold" >1</text>
<text x="454.30" y="362.10" font-size="21.8" text-anchor="end" font-family="Liberation Serif, serif" font-weight="bold" >10</text>
<rect x="462.80" y="337.32" width="8.80" height="1.35" fill="#000"/>
<text x="480.20" y="342.00" font-size="17.2" text-anchor="end" font-family="Liberation Serif, serif" font-weight="bold" >2</text>
<text x="480.20" y="377.90" font-size="21" text-anchor="middle" font-family="Liberation Serif, serif" font-weight="bold" >0</text>
<text x="557.02" y="377.90" font-size="21" text-anchor="middle" font-family="Liberation Serif, serif" font-weight="bold" >50</text>
<text x="633.24" y="377.90" font-size="21" text-anchor="middle" font-family="Liberation Serif, serif" font-weight="bold" >100</text>
<text x="710.67" y="377.90" font-size="21" text-anchor="middle" font-family="Liberation Serif, serif" font-weight="bold" >150</text>
<text x="655.80" y="404.70" font-size="21" text-anchor="start" font-family="Liberation Serif, serif" font-weight="bold" >M</text>
<text x="677.20" y="411.50" font-size="16.2" text-anchor="start" font-family="Liberation Serif, serif" font-weight="bold" >12</text>
<text x="698.40" y="404.70" font-size="21" text-anchor="start" font-family="Liberation Serif, serif" font-weight="bold" >(GeV)</text>
<text transform="translate(432.0,128.9) rotate(-90)" font-size="21" font-family="Liberation Serif, serif" font-weight="bold">Events</text>
<polygon points="184.70,84.20 184.66,85.57 184.54,86.48 184.35,87.24 184.07,87.91 183.72,88.49 183.30,89.00 182.79,89.42 182.21,89.77 181.54,90.05 180.78,90.24 179.87,90.36 178.50,90.40 177.13,90.36 176.22,90.24 175.46,90.05 174.79,89.77 174.21,89.42 173.70,89.00 173.28,88.49 172.93,87.91 172.65,87.24 172.46,86.48 172.34,85.57 172.30,84.20 172.34,82.83 172.46,81.92 172.65,81.16 172.93,80.49 173.28,79.91 173.70,79.40 174.21,78.98 174.79,78.63 175.46,78.35 176.22,78.16 177.13,78.04 178.50,78.00 179.87,78.04 180.78,78.16 181.54,78.35 182.21,78.63 182.79,78.98 183.30,79.40 183.72,79.91 184.07,80.49 184.35,81.16 184.54,81.92 184.66,82.83" fill="#000"/>
<text x="202.90" y="89.90" font-size="16.9" text-anchor="start" font-family="Liberation Serif, serif" font-weight="bold" >H1 Data 115 pb</text>
<rect x="325.90" y="76.47" width="6.70" height="1.25" fill="#000"/>
<text x="338.90" y="80.30" font-size="12.5" text-anchor="end" font-family="Liberation Serif, serif" font-weight="bold" >1</text>
<clipPath id="lg1"><rect x="159.5" y="97.5" width="22.1" height="14.8"/></clipPath>
<g clip-path="url(#lg1)"><path d="M139.58 114.83L177.13 73.24M142.88 117.81L180.42 76.21M146.17 120.78L183.72 79.19M149.47 123.76L187.01 82.16M152.76 126.73L190.31 85.14M156.06 129.71L193.61 88.11M159.36 132.68L196.90 91.09M162.65 135.66L200.20 94.06" stroke="#ff0000" stroke-width="0.95" fill="none"/><path d="M195.48 124.25L140.35 114.23M196.33 119.57L141.20 109.55M197.18 114.89L142.05 104.87M198.03 110.20L142.90 100.18M198.88 105.52L143.75 95.50M199.73 100.84L144.60 90.82M200.58 96.15L145.45 86.13" stroke="#ff0000" stroke-width="0.95" fill="none"/></g>
<rect x="159.5" y="97.5" width="22.1" height="14.8" fill="none" stroke="#000" stroke-width="1.15"/>
<text x="205.40" y="110.90" font-size="17" text-anchor="start" font-family="Liberation Serif, serif" font-weight="bold" >GRAPE</text>
<clipPath id="lg2"><rect x="159.5" y="118.4" width="22.1" height="14.8"/></clipPath>
<g clip-path="url(#lg2)"><path d="M170.74 158.22L142.72 109.69M177.23 154.47L149.21 105.94M183.73 150.72L155.71 102.19M190.22 146.97L162.20 98.44M196.72 143.22L168.70 94.69" stroke="#0000ff" stroke-width="1.1" fill="none"/></g>
<rect x="159.5" y="118.4" width="22.1" height="14.8" fill="none" stroke="#000" stroke-width="1.15"/>
<text x="205.90" y="132.10" font-size="17" text-anchor="start" font-family="Liberation Serif, serif" font-weight="bold" >NC</text>
<rect x="231.2" y="126.0" width="8.0" height="1.6" fill="#000"/>
<text x="240.13" y="132.10" font-size="17" text-anchor="start" font-family="Liberation Serif, serif" font-weight="bold" >DIS</text>
<text x="197.30" y="146.20" font-size="17" text-anchor="start" font-family="Liberation Serif, serif" font-weight="bold" >+Compton</text>
<text x="303.30" y="129.00" font-size="24" text-anchor="start" font-family="Liberation Serif, serif" font-weight="bold" >2e</text>
<text x="719.10" y="88.40" font-size="24.2" text-anchor="start" font-family="Liberation Serif, serif" font-weight="bold" >3e</text>
</svg>
</body></html>
